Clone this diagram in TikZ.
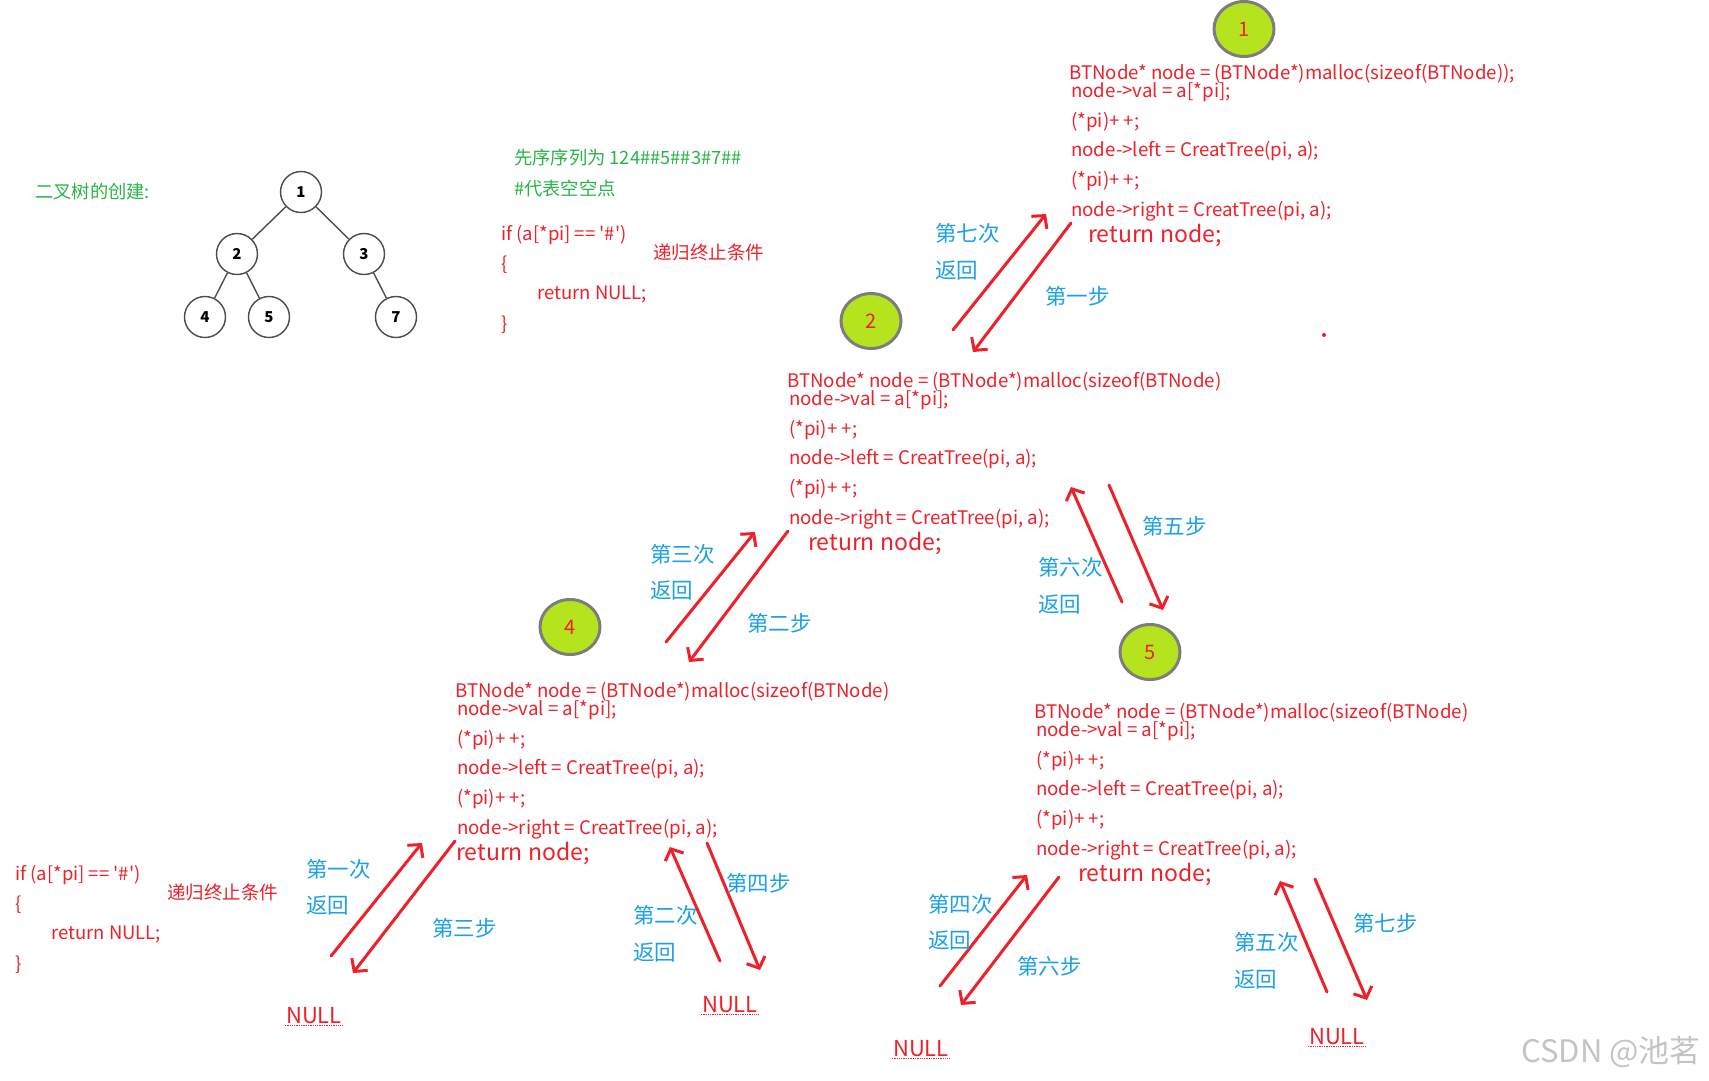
\documentclass[tikz,border=0pt]{standalone}
\usepackage{fontspec}
\setmainfont{Noto Sans CJK SC}
\usetikzlibrary{arrows.meta, shapes.geometric}
\definecolor{codered}{RGB}{238, 32, 42}
\definecolor{stepblue}{RGB}{28, 160, 230}
\definecolor{notegreen}{RGB}{40, 180, 70}
\definecolor{ballgreen}{RGB}{181, 228, 30}
\definecolor{ballrim}{RGB}{125, 125, 125}
\definecolor{markgray}{RGB}{196, 196, 196}
\newcommand{\fs}[1]{\fontsize{#1}{#1}\selectfont}
% one CreatTree frame: name, left x, top y, x of return, tail of first line
\newcommand{\codeblock}[5]{%
  \node[codeline] (#1a) at (#2,#3) {BTNode* node = (BTNode*)malloc(sizeof(BTNode#5};
  \node[codeline] (#1b) at (#2+2,#3+18) {node->val = a[*pi];};
  \node[codeline] (#1c) at (#2+2,#3+48) {(*pi)+ +;};
  \node[codeline] (#1d) at (#2+2,#3+77) {node->left = CreatTree(pi, a);};
  \node[codeline] (#1e) at (#2+2,#3+107) {(*pi)+ +;};
  \node[codeline] (#1f) at (#2+2,#3+137) {node->right = CreatTree(pi, a);};
  \node[codeline, font=\fs{23}] (#1g) at (#4,#3+162) {return node;};
}
% one red hand arrow between two named points
\newcommand{\steparrow}[3]{%
  \coordinate (#1s) at (#2);
  \coordinate (#1e) at (#3);
  \draw[redarrow] (#1s) -- (#1e);
}
\tikzset{
  treenode/.style={circle, draw=black!70, line width=1.4pt, fill=white,
    minimum size=41pt, inner sep=0pt, font=\fs{15}\bfseries},
  treeedge/.style={draw=black!70, line width=1.4pt},
  ballnode/.style={ellipse, draw=ballrim, line width=3pt, fill=ballgreen,
    minimum width=60pt, minimum height=55pt, inner sep=0pt,
    text=codered, font=\fs{20}},
  codeline/.style={anchor=west, inner sep=0pt, text=codered, font=\fs{18.7}},
  iftext/.style={anchor=west, inner sep=0pt, text=codered, font=\fs{18.5}},
  notetext/.style={anchor=west, inner sep=0pt, text=notegreen, font=\fs{18.3}},
  steplabel/.style={anchor=west, inner sep=0pt, text=stepblue, font=\fs{21.5}},
  nulltext/.style={inner sep=1pt, text=codered, font=\fs{22}},
  redarrow/.style={draw=codered, line width=3pt, line cap=round,
    -{Straight Barb[length=9pt, width=20pt]}}
}
\begin{document}
\begin{tikzpicture}[x=1pt, y=-1pt]
  \useasboundingbox (0,0) rectangle (1709,1080);
  % title and sample tree
  \node[notetext] (title) at (35,192) {二叉树的创建:};
  \node[treenode] (t1) at (301,192) {1};
  \node[treenode] (t2) at (237,254) {2};
  \node[treenode] (t3) at (364,254) {3};
  \node[treenode] (t4) at (205,317) {4};
  \node[treenode] (t5) at (269,317) {5};
  \node[treenode] (t7) at (396,317) {7};
  \draw[treeedge] (t1) -- (t2);
  \draw[treeedge] (t1) -- (t3);
  \draw[treeedge] (t2) -- (t4);
  \draw[treeedge] (t2) -- (t5);
  \draw[treeedge] (t3) -- (t7);
  % preorder note
  \node[notetext] (seq) at (514,158) {先序序列为 124\#\#5\#\#3\#7\#\#};
  \node[notetext] (hash) at (514,189) {\#代表空空点};
  % stop condition (top)
  \node[iftext] (ifa) at (501,235) {if (a[*pi] == \textquotesingle\#\textquotesingle)};
  \node[iftext] (ifb) at (501,265) {\{};
  \node[iftext] (ifc) at (537,294) {return NULL;};
  \node[iftext] (ifd) at (501,325) {\}};
  \node[iftext] (stopa) at (653,252) {递归终止条件};
  % stop condition (bottom)
  \node[iftext] (ifw) at (15,875) {if (a[*pi] == \textquotesingle\#\textquotesingle)};
  \node[iftext] (ifx) at (15,905) {\{};
  \node[iftext] (ify) at (51,934) {return NULL;};
  \node[iftext] (ifz) at (15,965) {\}};
  \node[iftext] (stopb) at (167,892) {递归终止条件};
  % call frames
  \node[ballnode] (b1) at (1244,29) {1};
  \node[ballnode] (b2) at (871,321) {2};
  \node[ballnode] (b4) at (570,627) {4};
  \node[ballnode] (b5) at (1150,652) {5};
  \codeblock{k1}{1069}{74}{1088}{));}
  \codeblock{k2}{787}{382}{808}{)}
  \codeblock{k4}{455}{692}{456}{)}
  \codeblock{k5}{1034}{713}{1078}{)}
  \fill[codered] (1324,335) circle (2);
  % empty subtrees
  \node[nulltext] (n1) at (314,1016) {NULL};
  \node[nulltext] (n2) at (730,1005) {NULL};
  \node[nulltext] (n3) at (921,1049) {NULL};
  \node[nulltext] (n4) at (1337,1037) {NULL};
  \foreach \n in {n1,n2,n3,n4}
    \draw[codered, densely dotted, line width=1.3pt]
      (\n.south west) -- (\n.south east);
  % calls and returns
  \steparrow{ua}{953,330}{1046,214}
  \steparrow{da}{1071,223}{973,352}
  \steparrow{ub}{666,642}{755,532}
  \steparrow{db}{788,531}{689,662}
  \steparrow{uc}{1122,602}{1071,487}
  \steparrow{dc}{1109,485}{1163,610}
  \steparrow{ud}{331,956}{422,843}
  \steparrow{dd}{455,841}{353,973}
  \steparrow{ue}{720,961}{670,847}
  \steparrow{de}{707,843}{760,970}
  \steparrow{uf}{940,986}{1027,875}
  \steparrow{df}{1059,877}{961,1005}
  \steparrow{ug}{1327,992}{1280,881}
  \steparrow{dg}{1315,879}{1367,1000}
  % step labels
  \node[steplabel] (la1) at (935,233) {第七次};
  \node[steplabel] (la2) at (935,270) {返回};
  \node[steplabel] (la3) at (1045,296) {第一步};
  \node[steplabel] (lb1) at (650,554) {第三次};
  \node[steplabel] (lb2) at (650,590) {返回};
  \node[steplabel] (lb3) at (747,623) {第二步};
  \node[steplabel] (lc1) at (1142,526) {第五步};
  \node[steplabel] (lc2) at (1038,567) {第六次};
  \node[steplabel] (lc3) at (1038,604) {返回};
  \node[steplabel] (ld1) at (306,869) {第一次};
  \node[steplabel] (ld2) at (306,905) {返回};
  \node[steplabel] (ld3) at (432,928) {第三步};
  \node[steplabel] (le1) at (726,883) {第四步};
  \node[steplabel] (le2) at (633,915) {第二次};
  \node[steplabel] (le3) at (633,952) {返回};
  \node[steplabel] (lf1) at (928,904) {第四次};
  \node[steplabel] (lf2) at (928,940) {返回};
  \node[steplabel] (lf3) at (1017,966) {第六步};
  \node[steplabel] (lg1) at (1353,923) {第七步};
  \node[steplabel] (lg2) at (1234,942) {第五次};
  \node[steplabel] (lg3) at (1234,979) {返回};
  % watermark
  \node[text=markgray, font=\fs{31}] (mark) at (1611,1052) {CSDN @池茗};
\end{tikzpicture}
\end{document}
